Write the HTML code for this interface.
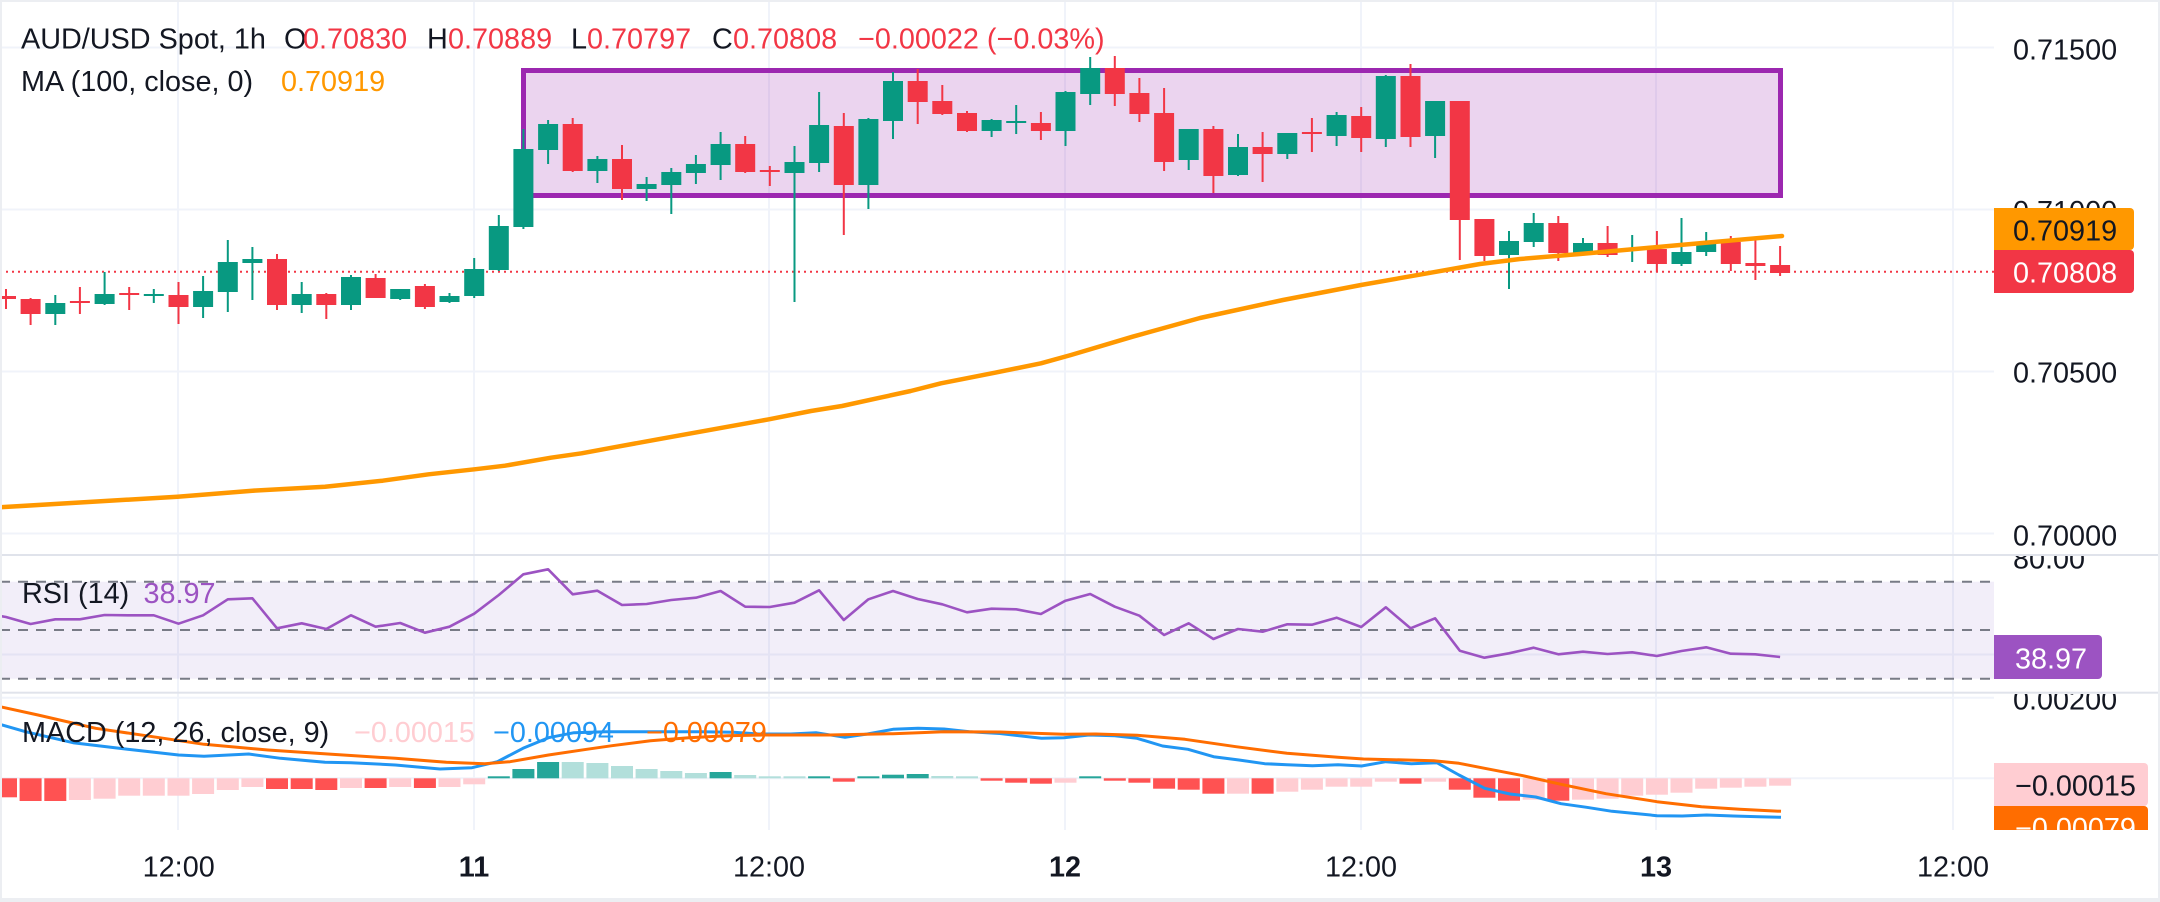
<!DOCTYPE html>
<html><head><meta charset="utf-8"><style>
html,body{margin:0;padding:0;background:#fff;}
svg{display:block;}
text{font-family:"Liberation Sans",sans-serif;font-size:28.8px;}
</style></head><body>
<svg width="2160" height="902" viewBox="0 0 2160 902" xmlns="http://www.w3.org/2000/svg">
<defs>
<clipPath id="cm"><rect x="2" y="2" width="1992" height="553"/></clipPath>
<clipPath id="cr"><rect x="2" y="556" width="1992" height="136"/></clipPath>
<clipPath id="cd"><rect x="2" y="694" width="1992" height="136"/></clipPath>
<clipPath id="ar"><rect x="1994" y="556" width="166" height="136"/></clipPath>
<clipPath id="ad"><rect x="1994" y="694" width="166" height="136"/></clipPath>
<clipPath id="am"><rect x="1994" y="2" width="166" height="553"/></clipPath>
</defs>
<rect x="0" y="0" width="2160" height="902" fill="#fff"/>

<!-- vertical grid -->
<g stroke="#f0f3fa" stroke-width="2">
<line x1="178" y1="0" x2="178" y2="830"/>
<line x1="474" y1="0" x2="474" y2="830"/>
<line x1="769" y1="0" x2="769" y2="830"/>
<line x1="1065" y1="0" x2="1065" y2="830"/>
<line x1="1361" y1="0" x2="1361" y2="830"/>
<line x1="1656" y1="0" x2="1656" y2="830"/>
<line x1="1953" y1="0" x2="1953" y2="830"/>
</g>
<!-- horizontal grid -->
<g stroke="#f0f3fa" stroke-width="2">
<line x1="0" y1="47.5" x2="1994" y2="47.5"/>
<line x1="0" y1="209.5" x2="1994" y2="209.5"/>
<line x1="0" y1="371.5" x2="1994" y2="371.5"/>
<line x1="0" y1="533.5" x2="1994" y2="533.5"/>
<line x1="0" y1="654.5" x2="1994" y2="654.5"/>
<line x1="0" y1="697.7" x2="1994" y2="697.7"/>
<line x1="0" y1="778.3" x2="1994" y2="778.3"/>
</g>

<!-- MAIN PANE -->
<g clip-path="url(#cm)">
<rect x="523.5" y="70.5" width="1257" height="125" fill="#9c27b0" fill-opacity="0.2" stroke="#9c27b0" stroke-width="5"/>
<line x1="0" y1="271.7" x2="1994" y2="271.7" stroke="#f23645" stroke-width="2" stroke-dasharray="2 4"/>
<g fill="#089981">
<rect x="54.3" y="295" width="2" height="30"/><rect x="45.3" y="303" width="20" height="11"/>
<rect x="103.6" y="272" width="2" height="33"/><rect x="94.6" y="294" width="20" height="10"/>
<rect x="152.8" y="289" width="2" height="14"/><rect x="143.8" y="294" width="20" height="2"/>
<rect x="202.1" y="276" width="2" height="42"/><rect x="193.1" y="291" width="20" height="16"/>
<rect x="226.8" y="240" width="2" height="72"/><rect x="217.8" y="262" width="20" height="30"/>
<rect x="251.4" y="247" width="2" height="53"/><rect x="242.4" y="259" width="20" height="4"/>
<rect x="300.7" y="282" width="2" height="31"/><rect x="291.7" y="294" width="20" height="11"/>
<rect x="350" y="275" width="2" height="35"/><rect x="341" y="277" width="20" height="28"/>
<rect x="399.2" y="289" width="2" height="11"/><rect x="390.2" y="289" width="20" height="10"/>
<rect x="448.5" y="293" width="2" height="10"/><rect x="439.5" y="296" width="20" height="6"/>
<rect x="473.2" y="258" width="2" height="40"/><rect x="464.2" y="269" width="20" height="27"/>
<rect x="497.8" y="215" width="2" height="56"/><rect x="488.8" y="226" width="20" height="44"/>
<rect x="522.4" y="129" width="2" height="100"/><rect x="513.4" y="149" width="20" height="78"/>
<rect x="547.1" y="120" width="2" height="44"/><rect x="538.1" y="124" width="20" height="26"/>
<rect x="596.4" y="156" width="2" height="27"/><rect x="587.4" y="159" width="20" height="12"/>
<rect x="645.6" y="177" width="2" height="24"/><rect x="636.6" y="184" width="20" height="5"/>
<rect x="670.3" y="168" width="2" height="46"/><rect x="661.3" y="172" width="20" height="13"/>
<rect x="694.9" y="155" width="2" height="29"/><rect x="685.9" y="164" width="20" height="9"/>
<rect x="719.6" y="132" width="2" height="48"/><rect x="710.6" y="144" width="20" height="21"/>
<rect x="793.5" y="146" width="2" height="156"/><rect x="784.5" y="162" width="20" height="11"/>
<rect x="818.1" y="92" width="2" height="80"/><rect x="809.1" y="125" width="20" height="38"/>
<rect x="867.4" y="118" width="2" height="91"/><rect x="858.4" y="119" width="20" height="66"/>
<rect x="892" y="72" width="2" height="67"/><rect x="883" y="81" width="20" height="40"/>
<rect x="990.6" y="119" width="2" height="18"/><rect x="981.6" y="120" width="20" height="11"/>
<rect x="1015.2" y="105" width="2" height="29"/><rect x="1006.2" y="121" width="20" height="2"/>
<rect x="1064.5" y="91" width="2" height="55"/><rect x="1055.5" y="92" width="20" height="39"/>
<rect x="1089.2" y="57" width="2" height="48"/><rect x="1080.2" y="68" width="20" height="26"/>
<rect x="1187.7" y="129" width="2" height="41"/><rect x="1178.7" y="129" width="20" height="31"/>
<rect x="1237" y="134" width="2" height="42"/><rect x="1228" y="147" width="20" height="28"/>
<rect x="1286.3" y="133" width="2" height="26"/><rect x="1277.3" y="133" width="20" height="21"/>
<rect x="1335.6" y="112" width="2" height="34"/><rect x="1326.6" y="115" width="20" height="21"/>
<rect x="1384.8" y="75" width="2" height="72"/><rect x="1375.8" y="76" width="20" height="63"/>
<rect x="1434.1" y="101" width="2" height="57"/><rect x="1425.1" y="101" width="20" height="35"/>
<rect x="1508" y="231" width="2" height="58"/><rect x="1499" y="241" width="20" height="14"/>
<rect x="1532.7" y="213" width="2" height="34"/><rect x="1523.7" y="223" width="20" height="19"/>
<rect x="1582" y="238" width="2" height="17"/><rect x="1573" y="243" width="20" height="10"/>
<rect x="1631.2" y="235" width="2" height="27"/><rect x="1622.2" y="248" width="20" height="2"/>
<rect x="1680.5" y="218" width="2" height="48"/><rect x="1671.5" y="252" width="20" height="12"/>
<rect x="1705.2" y="232" width="2" height="24"/><rect x="1696.2" y="243" width="20" height="9"/>
</g>
<g fill="#f23645">
<rect x="5" y="289" width="2" height="20"/><rect x="-4" y="296" width="20" height="3"/>
<rect x="29.6" y="298" width="2" height="27"/><rect x="20.6" y="299" width="20" height="15"/>
<rect x="78.9" y="287" width="2" height="27"/><rect x="69.9" y="301" width="20" height="2"/>
<rect x="128.2" y="287" width="2" height="23"/><rect x="119.2" y="293" width="20" height="2"/>
<rect x="177.5" y="282" width="2" height="42"/><rect x="168.5" y="295" width="20" height="12"/>
<rect x="276" y="254" width="2" height="56"/><rect x="267" y="259" width="20" height="46"/>
<rect x="325.3" y="293" width="2" height="26"/><rect x="316.3" y="294" width="20" height="11"/>
<rect x="374.6" y="274" width="2" height="24"/><rect x="365.6" y="278" width="20" height="20"/>
<rect x="423.9" y="284" width="2" height="25"/><rect x="414.9" y="286" width="20" height="21"/>
<rect x="571.7" y="118" width="2" height="54"/><rect x="562.7" y="124" width="20" height="47"/>
<rect x="621" y="145" width="2" height="55"/><rect x="612" y="159" width="20" height="30"/>
<rect x="744.2" y="136" width="2" height="37"/><rect x="735.2" y="144" width="20" height="28"/>
<rect x="768.8" y="166" width="2" height="20"/><rect x="759.8" y="170" width="20" height="2"/>
<rect x="842.8" y="113" width="2" height="122"/><rect x="833.8" y="126" width="20" height="59"/>
<rect x="916.7" y="69" width="2" height="55"/><rect x="907.7" y="81" width="20" height="21"/>
<rect x="941.3" y="85" width="2" height="30"/><rect x="932.3" y="101" width="20" height="13"/>
<rect x="966" y="111" width="2" height="21"/><rect x="957" y="113" width="20" height="18"/>
<rect x="1039.9" y="112" width="2" height="28"/><rect x="1030.9" y="123" width="20" height="8"/>
<rect x="1113.8" y="56" width="2" height="50"/><rect x="1104.8" y="68" width="20" height="26"/>
<rect x="1138.4" y="78" width="2" height="44"/><rect x="1129.4" y="93" width="20" height="21"/>
<rect x="1163.1" y="88" width="2" height="83"/><rect x="1154.1" y="113" width="20" height="49"/>
<rect x="1212.4" y="126" width="2" height="67"/><rect x="1203.4" y="129" width="20" height="47"/>
<rect x="1261.6" y="132" width="2" height="50"/><rect x="1252.6" y="147" width="20" height="7"/>
<rect x="1310.9" y="118" width="2" height="34"/><rect x="1301.9" y="132" width="20" height="2"/>
<rect x="1360.2" y="107" width="2" height="45"/><rect x="1351.2" y="116" width="20" height="22"/>
<rect x="1409.5" y="64" width="2" height="83"/><rect x="1400.5" y="76" width="20" height="61"/>
<rect x="1458.8" y="101" width="2" height="159"/><rect x="1449.8" y="101" width="20" height="119"/>
<rect x="1483.4" y="219" width="2" height="42"/><rect x="1474.4" y="219" width="20" height="37"/>
<rect x="1557.3" y="216" width="2" height="45"/><rect x="1548.3" y="223" width="20" height="30"/>
<rect x="1606.6" y="226" width="2" height="31"/><rect x="1597.6" y="243" width="20" height="12"/>
<rect x="1655.9" y="231" width="2" height="41"/><rect x="1646.9" y="249" width="20" height="15"/>
<rect x="1729.8" y="236" width="2" height="35"/><rect x="1720.8" y="242" width="20" height="22"/>
<rect x="1754.4" y="237" width="2" height="43"/><rect x="1745.4" y="263" width="20" height="3"/>
<rect x="1779.1" y="246" width="2" height="30"/><rect x="1770.1" y="265" width="20" height="8"/>
</g>
<polyline fill="none" stroke="#ff9800" stroke-width="4.5" stroke-linejoin="round" stroke-linecap="round" points="0,507.3 177.5,496.7 252.5,490.7 325,486.7 382.6,480.7 428.6,474.3 474.5,469.3 505,465.7 551,457.7 581.6,453.3 612,447.7 658,439.3 719,428.3 769,419.3 811,411 842,406 880,397.7 910.7,391 941,383.3 995,372.7 1041,363.3 1071,355 1132.6,336.7 1200,318 1283,300 1361,285 1433,272.3 1480,264 1520,259 1580,254 1680,245 1782,236"/>
</g>

<!-- RSI PANE -->
<g clip-path="url(#cr)">
<rect x="0" y="581.7" width="1994" height="97" fill="#7e57c2" fill-opacity="0.1"/>
<g stroke="#787b86" stroke-width="2" stroke-dasharray="10 8">
<line x1="0" y1="581.7" x2="1994" y2="581.7"/>
<line x1="0" y1="630" x2="1994" y2="630"/>
<line x1="0" y1="678.7" x2="1994" y2="678.7"/>
</g>
<polyline fill="none" stroke="#9c53c2" stroke-width="2.6" stroke-linejoin="round" points="0,616 6,617 30.6,624 55.3,619.3 79.9,619.3 104.6,615 129.2,615.3 153.8,615.3 178.5,623.7 203.1,615.3 227.8,599.3 252.4,598.3 277,628.3 301.7,623.3 326.3,629 351,615.3 375.6,626.7 400.2,623 424.9,632.7 449.5,626.7 474.2,613.7 498.8,595 523.4,574.3 548.1,569.3 572.7,594.3 597.4,590.7 622,605 646.6,604 671.3,600 695.9,597.7 720.6,591 745.2,606.7 769.8,607 794.5,602.7 819.1,590.3 843.8,620 868.4,599.3 893,591 917.7,599 942.3,604.3 967,612.3 991.6,608.7 1016.2,609.3 1040.9,614 1065.5,600.7 1090.2,594 1114.8,606.7 1139.4,615.7 1164.1,635 1188.7,623.3 1213.4,639 1238,629 1262.6,631.7 1287.3,624.3 1311.9,624.7 1336.6,617.7 1361.2,627 1385.8,607.3 1410.5,628.3 1435.1,618.3 1459.8,650.7 1484.4,657.7 1509,653.3 1533.7,647.7 1558.3,654.3 1583,651.7 1607.6,654 1632.2,652.3 1656.9,656 1681.5,651 1706.2,647.3 1730.8,653.7 1755.4,654.3 1780.1,657"/>
</g>

<!-- MACD PANE -->
<g clip-path="url(#cd)">
<g fill="#ff5252">
<rect x="-5" y="778.3" width="22" height="19"/>
<rect x="19.6" y="778.3" width="22" height="22.7"/>
<rect x="44.3" y="778.3" width="22" height="22.7"/>
<rect x="266" y="778.3" width="22" height="10.7"/>
<rect x="290.7" y="778.3" width="22" height="10.7"/>
<rect x="315.3" y="778.3" width="22" height="11.7"/>
<rect x="364.6" y="778.3" width="22" height="9.7"/>
<rect x="413.9" y="778.3" width="22" height="9.7"/>
<rect x="832.8" y="778.3" width="22" height="3.4"/>
<rect x="980.6" y="778.3" width="22" height="2.4"/>
<rect x="1005.2" y="778.3" width="22" height="4.4"/>
<rect x="1029.9" y="778.3" width="22" height="5.4"/>
<rect x="1103.8" y="778.3" width="22" height="2.4"/>
<rect x="1128.4" y="778.3" width="22" height="4.4"/>
<rect x="1153.1" y="778.3" width="22" height="10.4"/>
<rect x="1177.7" y="778.3" width="22" height="11.4"/>
<rect x="1202.4" y="778.3" width="22" height="15.4"/>
<rect x="1251.6" y="778.3" width="22" height="15.4"/>
<rect x="1399.5" y="778.3" width="22" height="5.4"/>
<rect x="1448.8" y="778.3" width="22" height="11.4"/>
<rect x="1473.4" y="778.3" width="22" height="19.4"/>
<rect x="1498" y="778.3" width="22" height="22.4"/>
<rect x="1547.3" y="778.3" width="22" height="22.4"/>
</g>
<g fill="#ffcdd2">
<rect x="68.9" y="778.3" width="22" height="21.7"/>
<rect x="93.6" y="778.3" width="22" height="20.4"/>
<rect x="118.2" y="778.3" width="22" height="17.4"/>
<rect x="142.8" y="778.3" width="22" height="17.4"/>
<rect x="167.5" y="778.3" width="22" height="17.4"/>
<rect x="192.1" y="778.3" width="22" height="15.7"/>
<rect x="216.8" y="778.3" width="22" height="11.7"/>
<rect x="241.4" y="778.3" width="22" height="8.7"/>
<rect x="340" y="778.3" width="22" height="9.7"/>
<rect x="389.2" y="778.3" width="22" height="8.7"/>
<rect x="438.5" y="778.3" width="22" height="8.7"/>
<rect x="463.2" y="778.3" width="22" height="6"/>
<rect x="1054.5" y="778.3" width="22" height="4.4"/>
<rect x="1227" y="778.3" width="22" height="15.4"/>
<rect x="1276.3" y="778.3" width="22" height="13.4"/>
<rect x="1300.9" y="778.3" width="22" height="11.4"/>
<rect x="1325.6" y="778.3" width="22" height="8.4"/>
<rect x="1350.2" y="778.3" width="22" height="8.4"/>
<rect x="1374.8" y="778.3" width="22" height="3.4"/>
<rect x="1424.1" y="778.3" width="22" height="3.4"/>
<rect x="1522.7" y="778.3" width="22" height="21.4"/>
<rect x="1572" y="778.3" width="22" height="21.4"/>
<rect x="1596.6" y="778.3" width="22" height="20.4"/>
<rect x="1621.2" y="778.3" width="22" height="17.4"/>
<rect x="1645.9" y="778.3" width="22" height="16.4"/>
<rect x="1670.5" y="778.3" width="22" height="14.4"/>
<rect x="1695.2" y="778.3" width="22" height="10.4"/>
<rect x="1719.8" y="778.3" width="22" height="9.4"/>
<rect x="1744.4" y="778.3" width="22" height="8.4"/>
<rect x="1769.1" y="778.3" width="22" height="7.4"/>
</g>
<g fill="#26a69a">
<rect x="487.8" y="776.3" width="22" height="2"/>
<rect x="512.4" y="769" width="22" height="9.3"/>
<rect x="537.1" y="762" width="22" height="16.3"/>
<rect x="709.6" y="772" width="22" height="6.3"/>
<rect x="808.1" y="776.3" width="22" height="2"/>
<rect x="857.4" y="776.3" width="22" height="2"/>
<rect x="882" y="774.7" width="22" height="3.6"/>
<rect x="906.7" y="774" width="22" height="4.3"/>
<rect x="1079.2" y="776.3" width="22" height="2"/>
</g>
<g fill="#b2dfdb">
<rect x="561.7" y="762" width="22" height="16.3"/>
<rect x="586.4" y="763" width="22" height="15.3"/>
<rect x="611" y="766" width="22" height="12.3"/>
<rect x="635.6" y="769" width="22" height="9.3"/>
<rect x="660.3" y="771" width="22" height="7.3"/>
<rect x="684.9" y="773" width="22" height="5.3"/>
<rect x="734.2" y="775" width="22" height="3.3"/>
<rect x="758.8" y="776.3" width="22" height="2"/>
<rect x="783.5" y="776.3" width="22" height="2"/>
<rect x="931.3" y="776" width="22" height="2.3"/>
<rect x="956" y="776.3" width="22" height="2"/>
</g>
<polyline fill="none" stroke="#2196f3" stroke-width="3" stroke-linejoin="round" points="0,724.3 25.5,731.7 73,742.7 127.6,749.3 178.6,755 204,756.3 248.7,754 280.6,758.3 325,762.3 350.8,762.7 395.4,765 440,769 472,767.7 497.4,761.7 523,748.3 548.5,737.7 574,732.7 606,731.7 637.8,731.7 669.6,731.7 701.5,731.7 733.4,732.3 759,734 790.8,734 816,732.7 845,737.3 867.3,734 893,729.3 918,728.3 944,729 969.4,731.7 1000,733.5 1041.5,738.3 1063.8,737.7 1089,735 1114.8,735.7 1137,738.3 1162.6,746 1188,749.3 1213.6,756.7 1239,760 1264.7,763.7 1287,764.7 1312.5,765.7 1338,764.7 1361.6,766 1385.8,761.7 1411.4,763.7 1436.9,762.7 1459,775 1484.7,788.3 1510,794 1535.7,797 1561,803.7 1586.7,807.3 1612,811.3 1637.8,813.7 1657,815.7 1682.4,816 1706.6,815 1733.4,816 1759,816.7 1781,817.3"/>
<polyline fill="none" stroke="#ff6d00" stroke-width="3" stroke-linejoin="round" points="0,706.7 38,715 95.7,728.3 159.4,737.7 204,744.3 267.9,750 331.6,754.3 395.4,758.3 446.4,762.3 484.7,763.7 510,761.7 548.5,755 586.7,749.3 612,745.7 650.5,740.7 688.8,737.7 727,735.7 765,735 829,735 893,733.7 944,731.7 1000,732 1063.8,734.3 1095.7,734 1137,735.3 1185,739.3 1236,746.7 1287,753.3 1338,757.3 1363.5,759 1433.7,760.7 1459,763.3 1484.7,768.3 1523,775.7 1561,784.3 1605.9,793.7 1657,801.7 1701.5,806.7 1739.8,809.3 1781,811.3"/>
</g>

<!-- pane separators -->
<rect x="0" y="554" width="2160" height="2" fill="#e0e3eb"/>
<rect x="0" y="691.7" width="2160" height="2" fill="#e0e3eb"/>

<!-- legends -->
<g fill="#131722">
<text x="21" y="48.3">AUD/USD Spot, 1h</text>
<text x="284" y="48.3">O</text>
<text x="427" y="48.3">H</text>
<text x="571" y="48.3">L</text>
<text x="712" y="48.3">C</text>
<text x="21" y="91">MA (100, close, 0)</text>
<text x="22" y="603">RSI (14)</text>
<text x="22" y="742">MACD (12, 26, close, 9)</text>
</g>
<g fill="#f23645">
<text x="303" y="48.3">0.70830</text>
<text x="448" y="48.3">0.70889</text>
<text x="587" y="48.3">0.70797</text>
<text x="733" y="48.3">0.70808</text>
<text x="858" y="48.3">−0.00022 (−0.03%)</text>
</g>
<text x="281" y="91" fill="#ff9800">0.70919</text>
<text x="143.5" y="603" fill="#9c53c2">38.97</text>
<text x="354" y="742" fill="#ffcdd2">−0.00015</text>
<text x="493" y="742" fill="#2196f3">−0.00094</text>
<text x="646" y="742" fill="#ff6d00">−0.00079</text>

<!-- price axis -->
<g fill="#131722" clip-path="url(#am)">
<text x="2013" y="59.3">0.71500</text>
<text x="2013" y="221">0.71000</text>
<text x="2013" y="382.7">0.70500</text>
<text x="2013" y="545.7">0.70000</text>
</g>
<path d="M1994,208 H2130 a4,4 0 0 1 4,4 V246 a4,4 0 0 1 -4,4 H1994 Z" fill="#ff9800"/>
<text x="2013" y="240.7" fill="#131722">0.70919</text>
<path d="M1994,250 H2130 a4,4 0 0 1 4,4 V289 a4,4 0 0 1 -4,4 H1994 Z" fill="#f23645"/>
<text x="2013" y="282.7" fill="#ffffff">0.70808</text>

<g clip-path="url(#ar)">
<text x="2013" y="568.3" fill="#131722">80.00</text>
<path d="M1994,635 H2098 a4,4 0 0 1 4,4 V675 a4,4 0 0 1 -4,4 H1994 Z" fill="#9c53c2"/>
<text x="2015" y="668.3" fill="#ffffff">38.97</text>
</g>
<g clip-path="url(#ad)">
<text x="2013" y="709.3" fill="#131722">0.00200</text>
<path d="M1994,763 H2144 a4,4 0 0 1 4,4 V802 a4,4 0 0 1 -4,4 H1994 Z" fill="#ffcdd2"/>
<text x="2015" y="795.3" fill="#131722">−0.00015</text>
<path d="M1994,806 H2144 a4,4 0 0 1 4,4 V845 a4,4 0 0 1 -4,4 H1994 Z" fill="#ff6d00"/>
<text x="2015" y="838" fill="#ffffff">−0.00079</text>
</g>

<!-- time axis -->
<g fill="#131722" text-anchor="middle">
<text x="178.7" y="876.7">12:00</text>
<text x="474" y="876.7" font-weight="bold">11</text>
<text x="769" y="876.7">12:00</text>
<text x="1065" y="876.7" font-weight="bold">12</text>
<text x="1361" y="876.7">12:00</text>
<text x="1656" y="876.7" font-weight="bold">13</text>
<text x="1953" y="876.7">12:00</text>
</g>

<!-- outer borders -->
<rect x="0" y="0" width="2160" height="2" fill="#eceef2"/>
<rect x="0" y="0" width="2" height="902" fill="#eceef2"/>
<rect x="2158" y="0" width="2" height="902" fill="#eceef2"/>
<rect x="0" y="898" width="2160" height="4" fill="#eceef2"/>
</svg>
</body></html>
